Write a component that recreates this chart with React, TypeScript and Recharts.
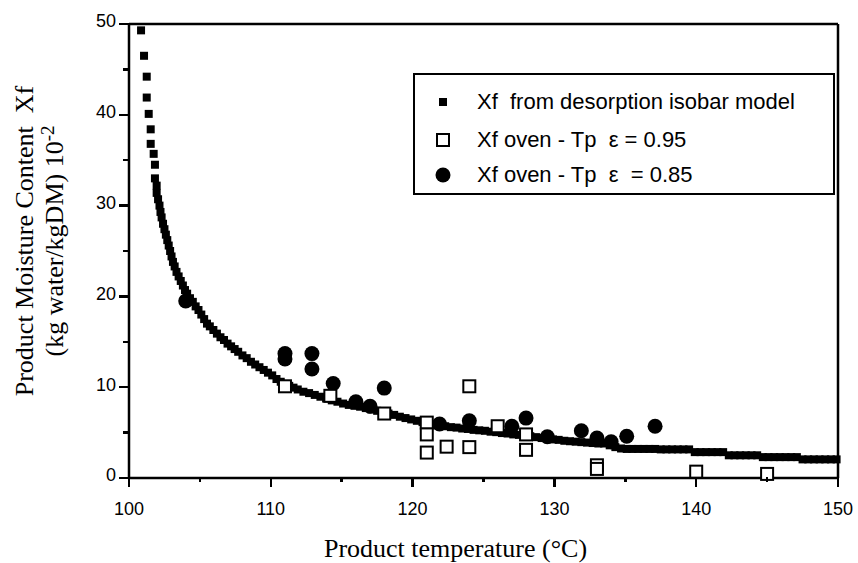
import React from "react";
import { ScatterChart, Scatter, XAxis, YAxis, ReferenceLine, Legend } from "recharts";

// axis ticks: majors carry labels, minors are short marks only
const xMajorTicks = [100, 110, 120, 130, 140, 150];
const xMinorTicks = [105, 115, 125, 135, 145];
const yMajorTicks = [0, 10, 20, 30, 40, 50];
const yMinorTicks = [5, 15, 25, 35, 45];

const seriesNames = [
  "Xf  from desorption isobar model",
  "Xf oven - Tp  \u03b5 = 0.95",
  "Xf oven - Tp  \u03b5  = 0.85",
];

// desorption isobar model
const modelTemp = [
  100.85, 101.06, 101.25, 101.25, 101.39, 101.53, 101.53, 101.74, 101.83, 101.83,
  101.95, 101.95, 102.05, 102.15, 102.22, 102.3, 102.4, 102.5, 102.6, 102.7,
  102.8, 102.9, 103.0, 103.1, 103.22, 103.35, 103.5, 103.65, 103.8, 103.95,
  104.1, 104.3, 104.5, 104.7, 104.9, 105.1, 105.3, 105.5, 105.7, 105.95,
  106.2, 106.45, 106.7, 106.95, 107.2, 107.45, 107.7, 108.0, 108.3, 108.6,
  108.9, 109.2, 109.5, 109.8, 110.1, 110.4, 110.7, 111.0, 111.3, 111.6,
  111.9, 112.3, 112.7, 113.1, 113.5, 113.9, 114.3, 114.7, 115.1, 115.5,
  115.9, 116.3, 116.7, 117.1, 117.5, 117.9, 118.3, 118.7, 119.1, 119.5,
  119.9, 120.3, 120.7, 121.1, 121.5, 121.9, 122.3, 122.7, 123.1, 123.5,
  123.9, 124.3, 124.7, 125.1, 125.5, 125.9, 126.3, 126.7, 127.1, 127.5,
  127.9, 128.3, 128.7, 129.1, 129.5, 129.9, 130.3, 130.7, 131.1, 131.5,
  131.9, 132.3, 132.7, 133.1, 133.5, 133.9, 134.3, 134.7, 135.1, 135.5,
  135.9, 136.3, 136.7, 137.1, 137.5, 137.9, 138.3, 138.7, 139.1, 139.5,
  139.9, 140.3, 140.7, 141.1, 141.5, 141.9, 142.3, 142.7, 143.1, 143.5,
  143.9, 144.3, 144.7, 145.1, 145.5, 145.9, 146.3, 146.7, 147.1, 147.5,
  147.9, 148.3, 148.7, 149.1, 149.5, 149.9,
];
const modelXf = [
  49.3, 46.5, 44.2, 41.9, 40.1, 38.4, 36.8, 35.7, 34.5, 33.0,
  32.2, 31.4, 30.7, 30.0, 29.3, 28.7, 28.0, 27.4, 26.8, 26.2,
  25.6, 25.0, 24.4, 23.8, 23.3, 22.7, 22.2, 21.7, 21.2, 20.7,
  20.3, 19.8, 19.4, 18.9, 18.5, 18.0, 17.5, 17.0, 16.7, 16.3,
  15.9, 15.5, 15.2, 14.8, 14.5, 14.2, 13.9, 13.5, 13.2, 12.8,
  12.5, 12.2, 11.9, 11.6, 11.3, 10.9, 10.6, 10.35, 10.15, 9.95,
  9.75, 9.5, 9.35, 9.15, 8.95, 8.75, 8.55, 8.4, 8.2, 8.05,
  7.95, 7.85, 7.7, 7.55, 7.4, 7.25, 7.1, 6.95, 6.75, 6.6,
  6.45, 6.3, 6.15, 6.0, 5.9, 5.8, 5.7, 5.6, 5.55, 5.45,
  5.4, 5.3, 5.25, 5.2, 5.1, 5.05, 4.95, 4.9, 4.8, 4.75,
  4.65, 4.6, 4.5, 4.4, 4.35, 4.25, 4.2, 4.1, 4.05, 4.0,
  3.95, 3.9, 3.85, 3.8, 3.8, 3.6, 3.4, 3.25, 3.2, 3.2,
  3.2, 3.2, 3.2, 3.2, 3.15, 3.15, 3.15, 3.15, 3.15, 3.15,
  2.85, 2.85, 2.85, 2.85, 2.85, 2.85, 2.5, 2.5, 2.5, 2.5,
  2.5, 2.5, 2.3, 2.3, 2.3, 2.3, 2.3, 2.3, 2.3, 2.05,
  2.05, 2.05, 2.05, 2.05, 2.05, 2.05,
];

// oven measurements, emissivity 0.95 (open squares)
const oven95Temp = [111.0, 114.2, 118.0, 121.0, 121.0, 121.0, 122.4, 124.0, 124.0, 126.0, 128.0, 128.0, 133.0, 133.0, 140.0, 145.0];
const oven95Xf = [10.1, 9.05, 7.1, 6.1, 4.8, 2.8, 3.45, 10.1, 3.4, 5.7, 4.8, 3.1, 1.4, 1.0, 0.7, 0.45];

// oven measurements, emissivity 0.85 (filled circles)
const oven85Temp = [104.0, 111.0, 111.0, 112.9, 112.9, 114.4, 116.0, 117.0, 118.0, 121.9, 124.0, 127.0, 128.0, 129.5, 131.9, 133.0, 134.0, 135.1, 137.1];
const oven85Xf = [19.5, 13.7, 13.1, 13.7, 12.0, 10.4, 8.4, 7.9, 9.9, 5.95, 6.3, 5.7, 6.6, 4.55, 5.2, 4.4, 4.0, 4.6, 5.7];

const zip = (t: number[], xf: number[]) => t.map((v, i) => ({ t: v, xf: xf[i] }));
const modelData = zip(modelTemp, modelXf);
const oven95Data = zip(oven95Temp, oven95Xf);
const oven85Data = zip(oven85Temp, oven85Xf);

const SANS = '"Liberation Sans", Arial, sans-serif';
const SERIF = '"Liberation Serif", "Times New Roman", serif';

// chart geometry
const W = 858;
const H = 563;
const margin = { top: 24, right: 20, bottom: 0, left: 0 };
const yAxisWidth = 129;
const xAxisHeight = 85;
const xDomain = [100, 150];
const yDomain = [0, 50];
const plotLeft = margin.left + yAxisWidth;
const plotTop = margin.top;
const plotW = W - margin.left - margin.right - yAxisWidth;
const plotH = H - margin.top - margin.bottom - xAxisHeight;
const plotBottom = plotTop + plotH;
const xToPx = (v: number) => plotLeft + ((v - xDomain[0]) / (xDomain[1] - xDomain[0])) * plotW;
const yToPx = (v: number) => plotBottom - ((v - yDomain[0]) / (yDomain[1] - yDomain[0])) * plotH;

const xLabel = (props: any) => {
  const vb = props.viewBox;
  return (
    <text x={vb.x + vb.width / 2 - 28} y={vb.y + 79} textAnchor="middle" fontSize={26} fontFamily={SERIF} fill="#000">
      Product temperature (°C)
    </text>
  );
};

const yLabel = (props: any) => {
  const vb = props.viewBox;
  const cy = vb.y + vb.height / 2 - 10;
  const x1 = vb.x + 33;
  const x2 = vb.x + 63;
  return (
    <g fontFamily={SERIF} fontSize={26} fill="#000">
      <text x={x1} y={cy} textAnchor="middle" transform={`rotate(-90, ${x1}, ${cy})`} style={{ whiteSpace: "pre" }}>
        Product Moisture Content  Xf
      </text>
      <text x={x2} y={cy} textAnchor="middle" transform={`rotate(-90, ${x2}, ${cy})`}>
        (kg water/kgDM) 10<tspan dy={-9} fontSize={19}>-2</tspan>
      </text>
    </g>
  );
};

const ModelMark = (p: any) => <rect x={p.cx - 4} y={p.cy - 4} width={8} height={8} fill="#000" />;
const SquareMark = (p: any) => (
  <rect x={p.cx - 6} y={p.cy - 6} width={12} height={12} fill="#fff" stroke="#000" strokeWidth={2} />
);
const CircleMark = (p: any) => <circle cx={p.cx} cy={p.cy} r={7.5} fill="#000" />;

function LegendBox() {
  const rowCenters = [27, 65, 100];
  const marks = [
    <rect x={24} y={9} width={8} height={8} fill="#000" />,
    <rect x={22} y={7} width={12} height={12} fill="#fff" stroke="#000" strokeWidth={2} />,
    <circle cx={28} cy={13} r={7.5} fill="#000" />,
  ];
  return (
    <div
      style={{
        position: "relative",
        width: 422,
        height: 122,
        border: "2px solid #000",
        boxSizing: "border-box",
        background: "#fff",
        fontFamily: SANS,
        fontSize: 22,
        color: "#000",
      }}
    >
      {seriesNames.map((name, i) => (
        <div
          key={name}
          style={{ position: "absolute", left: 0, top: rowCenters[i] - 13, height: 26, display: "flex", alignItems: "center" }}
        >
          <svg width={62} height={26} style={{ display: "block" }}>
            {marks[i]}
          </svg>
          <span style={{ whiteSpace: "pre", lineHeight: "26px" }}>{name}</span>
        </div>
      ))}
    </div>
  );
}

// outward tick marks drawn as a thin overlay on the axis edges
function TickMarks() {
  const t = 2.5;
  const xMark = (v: number, len: number) => (
    <div key={`x${v}`} style={{ position: "absolute", left: xToPx(v) - t / 2, top: plotBottom - 1, width: t, height: len + 1, background: "#000" }} />
  );
  const yMark = (v: number, len: number) => (
    <div key={`y${v}`} style={{ position: "absolute", left: plotLeft - len, top: yToPx(v) - t / 2, width: len + 1, height: t, background: "#000" }} />
  );
  return (
    <div style={{ position: "absolute", left: 0, top: 0, width: W, height: H, pointerEvents: "none" }}>
      {xMajorTicks.map((v) => xMark(v, 9))}
      {xMinorTicks.map((v) => xMark(v, 4))}
      {yMajorTicks.map((v) => yMark(v, 10))}
      {yMinorTicks.map((v) => yMark(v, 6))}
    </div>
  );
}

export default function App() {
  return (
    <div style={{ position: "absolute", left: 0, top: 0, width: W, height: H, background: "#fff" }}>
      <ScatterChart width={W} height={H} margin={margin}>
        <XAxis
          type="number"
          dataKey="t"
          domain={xDomain}
          ticks={xMajorTicks}
          interval={0}
          tickSize={0}
          tickMargin={24}
          tickLine={false}
          tick={{ fontSize: 18, fontFamily: SANS, fill: "#000" }}
          axisLine={{ stroke: "#000", strokeWidth: 2.5 }}
          height={xAxisHeight}
          label={xLabel}
        />
        <YAxis
          type="number"
          dataKey="xf"
          domain={yDomain}
          ticks={yMajorTicks}
          interval={0}
          tickSize={0}
          tickMargin={13}
          tickLine={false}
          tick={{ fontSize: 18, fontFamily: SANS, fill: "#000", dy: -3 }}
          axisLine={{ stroke: "#000", strokeWidth: 2.5 }}
          width={yAxisWidth}
          label={yLabel}
        />
        <ReferenceLine y={yDomain[1]} stroke="#000" strokeWidth={2.5} />
        <ReferenceLine x={xDomain[1]} stroke="#000" strokeWidth={2.5} />
        <Legend
          layout="horizontal"
          verticalAlign="middle"
          align="center"
          content={<LegendBox />}
          wrapperStyle={{ left: 413, top: 73, width: 422, height: 122 }}
        />
        <Scatter name={seriesNames[0]} data={modelData} fill="#000" shape={ModelMark} isAnimationActive={false} />
        <Scatter name={seriesNames[2]} data={oven85Data} fill="#000" shape={CircleMark} isAnimationActive={false} />
        <Scatter name={seriesNames[1]} data={oven95Data} fill="#fff" shape={SquareMark} isAnimationActive={false} />
      </ScatterChart>
      <TickMarks />
    </div>
  );
}
